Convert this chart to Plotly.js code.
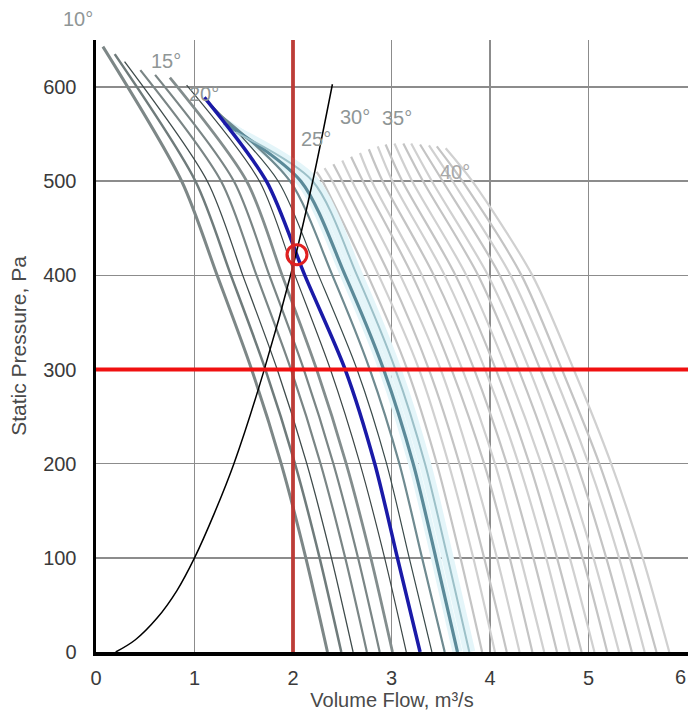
<!DOCTYPE html>
<html><head><meta charset="utf-8">
<script src="https://cdn.plot.ly/plotly-3.0.1.min.js"></script>
<style>html,body{margin:0;padding:0;background:#fff}#chart{width:691px;height:715px}</style>
</head><body><div id="chart"></div>
<script>
// pressure levels (Pa) at which each fan curve's flow is read
const pressureLevels = [500, 400, 300, 200, 100, 0];

// dark grey curves (low blade angles)
const darkStartFlow = [0.07, 0.19, 0.29, 0.45, 0.60, 0.75, 0.92];
const darkStartPressure = [643, 635, 627, 618, 613, 610, 602];
const darkFlows = [
  [0.87, 1.23, 1.58, 1.88, 2.13, 2.35],
  [1.01, 1.37, 1.72, 2.02, 2.27, 2.49],
  [1.13, 1.49, 1.84, 2.14, 2.39, 2.61],
  [1.27, 1.63, 1.98, 2.28, 2.53, 2.75],
  [1.40, 1.76, 2.11, 2.41, 2.66, 2.88],
  [1.53, 1.89, 2.24, 2.54, 2.79, 3.01],
  [1.66, 2.02, 2.38, 2.68, 2.93, 3.15]
];

// selected (blue) curve
const blueStart = [1.10, 589];
const blueFlows = [1.73, 2.12, 2.53, 2.83, 3.06, 3.29];

// teal curves
const tealStartFlow = [1.18, 1.24, 1.30, 1.42];
const tealStartPressure = [580, 572, 562, 552];
const tealFlows = [
  [1.85, 2.26, 2.65, 2.95, 3.18, 3.41],
  [1.97, 2.40, 2.78, 3.08, 3.31, 3.54],
  [2.08, 2.53, 2.92, 3.22, 3.45, 3.67],
  [2.20, 2.65, 3.04, 3.34, 3.57, 3.79]
];

// light grey curves (high blade angles)
const lightStartFlow = [2.24, 2.32, 2.41, 2.50, 2.59, 2.68, 2.77, 2.86, 2.94, 3.03, 3.12, 3.20, 3.29, 3.38, 3.46, 3.55];
const lightStartPressure = [510, 514, 518, 522, 526, 530, 534, 537, 539, 540, 540, 540, 539, 538, 537, 535];
const lightFlows = [
  [2.30, 2.76, 3.16, 3.46, 3.70, 3.92],
  [2.40, 2.87, 3.28, 3.58, 3.83, 4.05],
  [2.50, 2.98, 3.38, 3.69, 3.94, 4.17],
  [2.60, 3.09, 3.50, 3.81, 4.07, 4.30],
  [2.71, 3.21, 3.61, 3.94, 4.20, 4.43],
  [2.80, 3.31, 3.72, 4.05, 4.31, 4.55],
  [2.91, 3.43, 3.84, 4.17, 4.44, 4.68],
  [3.01, 3.54, 3.95, 4.29, 4.57, 4.81],
  [3.11, 3.65, 4.06, 4.40, 4.68, 4.93],
  [3.21, 3.76, 4.17, 4.52, 4.81, 5.06],
  [3.32, 3.88, 4.29, 4.64, 4.94, 5.19],
  [3.41, 3.98, 4.40, 4.75, 5.05, 5.31],
  [3.52, 4.10, 4.51, 4.88, 5.18, 5.44],
  [3.62, 4.21, 4.63, 5.00, 5.31, 5.57],
  [3.72, 4.32, 4.73, 5.11, 5.42, 5.69],
  [3.82, 4.43, 4.85, 5.23, 5.55, 5.82]
];

// system resistance curve
const systemFlow = [0.20, 0.40, 0.62, 0.82, 1.00, 1.20, 1.40, 1.70, 2.00, 2.20, 2.40];
const systemPressure = [0, 13, 36, 65, 100, 147, 200, 297, 410, 500, 603];

// reference lines and operating point
const designFlow = 2.0;
const designPressure = 300;
const operatingFlow = [2.04];
const operatingPressure = [422];

const angleLabels = ['10°', '15°', '20°', '25°', '30°', '35°', '40°'];
const xTickVals = [0, 1, 2, 3, 4, 5, 6];
const xTickText = ['0', '1', '2', '3', '4', '5', '6'];
const yTickVals = [0, 100, 200, 300, 400, 500, 600];

const X_MAX = 6.01, Y_MAX = 650;

function curveTrace(sx, sp, flows, color, width) {
  return {
    x: [sx].concat(flows), y: [sp].concat(pressureLevels),
    mode: 'lines', line: {color: color, width: width, shape: 'spline', smoothing: 0.8},
    hoverinfo: 'skip', showlegend: false
  };
}

const traces = [];
lightFlows.forEach((f, i) => {
  traces.push(curveTrace(lightStartFlow[i], lightStartPressure[i], f, i % 2 ? '#d0d0d0' : '#c4c4c4', 2.2));
});
traces.push(curveTrace(tealStartFlow[3], tealStartPressure[3], tealFlows[3], '#e4f5f9', 12));
traces.push(curveTrace(tealStartFlow[2], tealStartPressure[2], tealFlows[2], '#e4f5f9', 10));
const tealColors = ['#3a4a4a', '#6f8a90', '#5b8a99', '#9cc0c8'];
const tealWidths = [1.2, 2.2, 3.2, 2];
tealFlows.forEach((f, i) => {
  traces.push(curveTrace(tealStartFlow[i], tealStartPressure[i], f, tealColors[i], tealWidths[i]));
});
const darkColors = ['#7d8787', '#6f7b7b', '#3f4b4b', '#7a8585', '#7a8585', '#838d8d', '#3c4646'];
const darkWidths = [3, 2.5, 1.3, 2.2, 2.2, 2.8, 1.2];
darkFlows.forEach((f, i) => {
  traces.push(curveTrace(darkStartFlow[i], darkStartPressure[i], f, darkColors[i], darkWidths[i]));
});
traces.push(curveTrace(blueStart[0], blueStart[1], blueFlows, '#1a1aa8', 3.5));
traces.push({x: systemFlow, y: systemPressure, mode: 'lines',
  line: {color: '#000', width: 1.5, shape: 'spline'}, hoverinfo: 'skip', showlegend: false});
traces.push({x: [designFlow, designFlow], y: [0, Y_MAX], mode: 'lines',
  line: {color: '#c0302a', width: 4}, opacity: 0.85, hoverinfo: 'skip', showlegend: false});
traces.push({x: [0, X_MAX], y: [designPressure, designPressure], mode: 'lines',
  line: {color: '#f01010', width: 4}, hoverinfo: 'skip', showlegend: false});
traces.push({x: operatingFlow, y: operatingPressure, mode: 'markers',
  marker: {symbol: 'circle-open', size: 20, color: '#e02020', line: {width: 3, color: '#e02020'}},
  hoverinfo: 'skip', showlegend: false});

const fontFamily = 'Liberation Sans, Arial, sans-serif';
const labelFont = {family: fontFamily, size: 20, color: '#8f9696'};
const labelPos = [
  {xref: 'paper', yref: 'paper', x: -0.03, y: 1.035},
  {x: 0.71, y: 628}, {x: 1.10, y: 593}, {x: 2.23, y: 545},
  {x: 2.63, y: 568}, {x: 3.06, y: 567}, {x: 3.64, y: 510}
];
const annotations = angleLabels.map((t, i) => Object.assign({
  text: t, showarrow: false, xanchor: 'center', yanchor: 'middle',
  font: Object.assign({}, labelFont, i === 6 ? {color: '#a8a8a8'} : {})
}, labelPos[i]));

const tickFont = {family: fontFamily, size: 20, color: '#3a3a3a'};
// last x tick label drawn right-aligned to the plot edge so it stays inside the figure
annotations.push({
  text: xTickText[6], xref: 'paper', yref: 'paper', x: 1, y: 0, yshift: -25,
  xanchor: 'right', yanchor: 'middle', showarrow: false, font: tickFont
});

const layout = {
  width: 691, height: 715,
  margin: {l: 96, r: 3, t: 40, b: 63},
  paper_bgcolor: '#fff', plot_bgcolor: '#fff',
  showlegend: false,
  xaxis: {
    range: [0, X_MAX], tickvals: xTickVals, ticktext: xTickText.map((t, i) => i === 6 ? ' ' : t),
    showgrid: true, gridcolor: '#8c8c8c', gridwidth: 1.6, zeroline: false,
    showline: true, linecolor: '#000', linewidth: 3.5, ticks: '',
    ticklabelstandoff: 5, tickfont: tickFont,
    title: {text: 'Volume Flow, m³/s', font: {family: fontFamily, size: 20, color: '#4a4a4a'}, standoff: 0}
  },
  yaxis: {
    range: [0, Y_MAX], tickvals: yTickVals, ticktext: yTickVals.map(String),
    showgrid: true, gridcolor: '#8c8c8c', gridwidth: 1.6, zeroline: false,
    showline: true, linecolor: '#000', linewidth: 3.5, ticks: '',
    ticklabelstandoff: 12, tickfont: tickFont,
    title: {text: 'Static Pressure, Pa', font: {family: fontFamily, size: 21, color: '#4a4a4a'}, standoff: 12}
  },
  annotations: annotations
};

Plotly.newPlot('chart', traces, layout, {staticPlot: true, displayModeBar: false});
</script>
</body></html>
